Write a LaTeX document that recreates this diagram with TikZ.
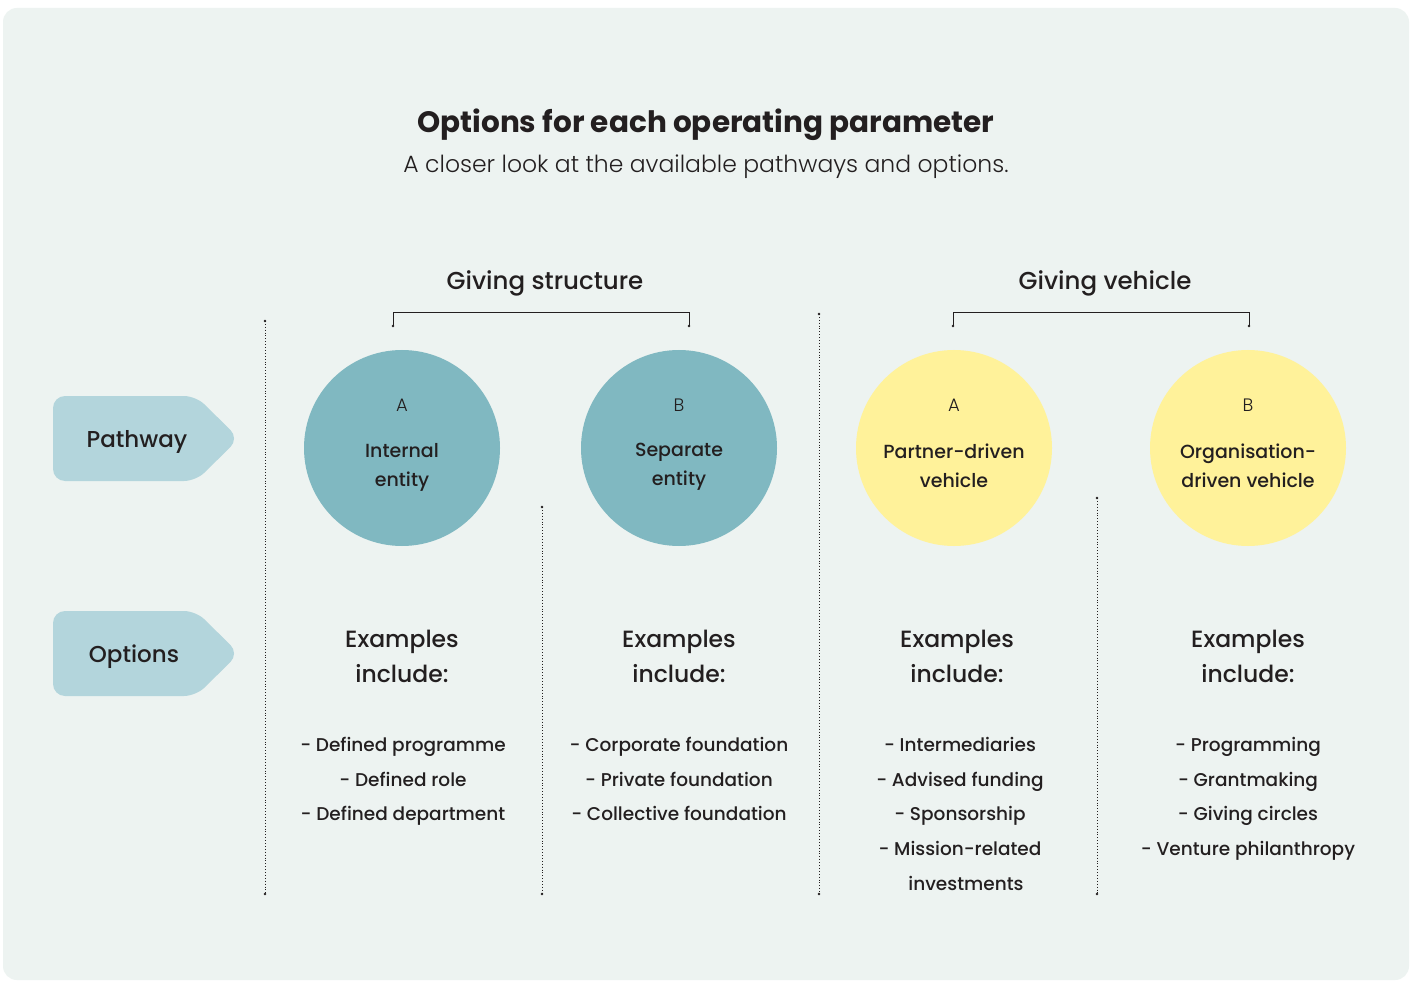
\documentclass[tikz,border=0pt]{standalone}
\usepackage{fontspec}
\setmainfont{Poppins}
\newfontfamily\medfont{Poppins Medium}
\newfontfamily\lightfont{Poppins Light}
\definecolor{bgpanel}{HTML}{EDF3F1}
\definecolor{circteal}{HTML}{80B8C1}
\definecolor{circyellow}{HTML}{FFF29A}
\definecolor{tagblue}{HTML}{B3D5DC}
\definecolor{ink}{HTML}{231F20}
\tikzset{
  every node/.style={text=ink, inner sep=0pt},
  bubble/.style={circle, minimum size=196pt, inner sep=0pt},
  letter/.style={font=\lightfont\fontsize{18}{20}\selectfont},
  bubbletext/.style={align=center, font=\medfont\fontsize{19}{29}\selectfont},
  tag/.style={fill=tagblue, rounded corners=12pt},
  tagtext/.style={font=\medfont\fontsize{23}{28}\selectfont},
  head/.style={font=\medfont\fontsize{24.5}{28}\selectfont},
  examples/.style={align=center, font=\medfont\fontsize{23.5}{35}\selectfont},
  items/.style={align=center, font=\medfont\fontsize{18.5}{34.7}\selectfont, anchor=north},
  divider/.style={ink, dotted, line width=0.9pt},
  enddot/.style={fill=ink},
  bracket/.style={ink, line width=1pt}
}
\begin{document}
\begin{tikzpicture}[x=1pt,y=-1pt]
  \useasboundingbox (0,0) rectangle (1416,981);
  \fill[white] (0,0) rectangle (1416,981);
  \fill[bgpanel, rounded corners=14pt] (3,8) rectangle (1409,980);

  % heading
  \node[font=\bfseries\fontsize{29.5}{34}\selectfont] (title) at (706,125) {Options for each operating parameter};
  \node[font=\lightfont\fontsize{23.5}{30}\selectfont] (subtitle) at (706,167) {A closer look at the available pathways and options.};

  % row tags
  \fill[tag] (53,396) -- (196,396) -- (239,438.5) -- (196,481) -- (53,481) -- cycle;
  \node[tagtext] (pathway) at (137,442) {Pathway};
  \fill[tag] (53,611) -- (196,611) -- (239,653.5) -- (196,696) -- (53,696) -- cycle;
  \node[tagtext] (options) at (134,657) {Options};

  % group headings
  \node[head] (gstruct) at (545,283) {Giving structure};
  \node[head] (gvehicle) at (1105,283) {Giving vehicle};

  % brackets
  \coordinate (bs1) at (393,326); \coordinate (bs2) at (689,326);
  \coordinate (bv1) at (953,326); \coordinate (bv2) at (1249,326);
  \draw[bracket] (bs1) -- (393,313) -- (689,313) -- (bs2);
  \draw[bracket] (bv1) -- (953,313) -- (1249,313) -- (bv2);
  \foreach \p in {bs1,bs2,bv1,bv2} \fill[enddot] (\p) circle (1.4pt);

  % pathway bubbles
  \node[bubble, fill=circteal] (ia) at (402,448) {};
  \node[bubble, fill=circteal] (sb) at (679,448) {};
  \node[bubble, fill=circyellow] (pa) at (954,448) {};
  \node[bubble, fill=circyellow] (ob) at (1248,448) {};

  \node[letter] (ial) at (402,405) {A};
  \node[letter] (sbl) at (679,405) {B};
  \node[letter] (pal) at (954,405) {A};
  \node[letter] (obl) at (1248,405) {B};

  \node[bubbletext] (iat) at (402,467) {Internal\\entity};
  \node[bubbletext] (sbt) at (679,467) {Separate\\entity};
  \node[bubbletext] (pat) at (954,466) {Partner-driven\\vehicle};
  \node[bubbletext] (obt) at (1248,466) {Organisation-\\driven vehicle};

  % column dividers
  \coordinate (d1t) at (265,321); \coordinate (d1b) at (265,894);
  \coordinate (d2t) at (542,507); \coordinate (d2b) at (542,894);
  \coordinate (d3t) at (819,314); \coordinate (d3b) at (819,894);
  \coordinate (d4t) at (1097,498); \coordinate (d4b) at (1097,894);
  \draw[divider] (d1t) -- (d1b);
  \draw[divider] (d2t) -- (d2b);
  \draw[divider] (d3t) -- (d3b);
  \draw[divider] (d4t) -- (d4b);
  \foreach \p in {d1t,d1b,d2t,d2b,d3t,d3b,d4t,d4b} \fill[enddot] (\p) circle (1.4pt);

  % examples
  \node[examples] (ex1) at (402,656) {Examples\\include:};
  \node[examples] (ex2) at (679,656) {Examples\\include:};
  \node[examples] (ex3) at (957,656) {Examples\\include:};
  \node[examples] (ex4) at (1248,656) {Examples\\include:};

  \node[items] (it1) at (403,737) {- Defined programme\\- Defined role\\- Defined department};
  \node[items] (it2) at (679,737) {- Corporate foundation\\- Private foundation\\- Collective foundation};
  \node[items] (it3) at (960,737) {- Intermediaries\\- Advised funding\\- Sponsorship\\- Mission-related\\\hspace*{12pt}investments};
  \node[items] (it4) at (1248,737) {- Programming\\- Grantmaking\\- Giving circles\\- Venture philanthropy};
\end{tikzpicture}
\end{document}
